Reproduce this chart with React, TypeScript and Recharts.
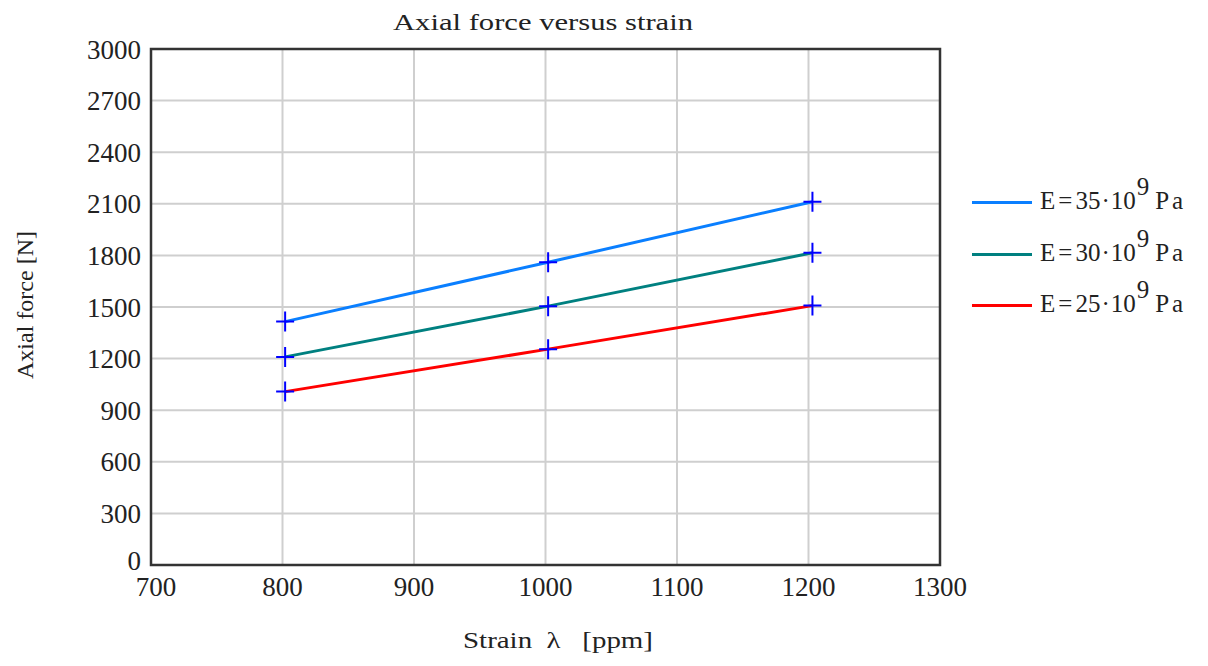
import React from 'react';
import { LineChart, Line, XAxis, YAxis, CartesianGrid, ReferenceArea } from 'recharts';

const strain = [802, 1002, 1203];
const forceE35 = [1415, 1760, 2112];
const forceE30 = [1210, 1505, 1815];
const forceE25 = [1008, 1255, 1508];
const xTicks = [700, 800, 900, 1000, 1100, 1200, 1300];
const yTicks = [0, 300, 600, 900, 1200, 1500, 1800, 2100, 2400, 2700, 3000];
const seriesNames = ['35', '30', '25'];
const seriesColors = ['#0a7fff', '#008080', '#ff0000'];

const data = strain.map((s, i) => ({ s, e35: forceE35[i], e30: forceE30[i], e25: forceE25[i] }));

const FONT = '"Liberation Serif", serif';

const Plus = (props: any) => {
  const { cx, cy } = props;
  if (cx == null || cy == null) return null;
  return (
    <path d={`M${cx - 9},${cy}H${cx + 9}M${cx},${cy - 10}V${cy + 10}`} stroke="#0000ff" strokeWidth={2} fill="none" />
  );
};

const YTick = (props: any) => {
  const { x, y, payload } = props;
  const shift = payload.value === 0 ? -5 : 0;
  return (
    <text x={x - 2} y={y + shift} dy="0.355em" textAnchor="end" fontFamily={FONT} fontSize={27} fill="#222">
      {payload.value}
    </text>
  );
};

const XTick = (props: any) => {
  const { x, y, payload } = props;
  const shift = payload.value === 700 ? 5 : 0;
  return (
    <text x={x + shift} y={y} dy="0.71em" textAnchor="middle" fontFamily={FONT} fontSize={27} fill="#222">
      {payload.value}
    </text>
  );
};

const LegendBox = () => (
  <div style={{ position: 'absolute', left: 965, top: 181, width: 243, height: 160, fontFamily: FONT, fontSize: 25, color: '#222' }}>
    {seriesNames.map((n, i) => (
      <div key={n} style={{ position: 'absolute', left: 0, top: i * 51.5, height: 40, width: 243 }}>
        <div style={{ position: 'absolute', left: 7, top: 20, width: 60, height: 3, background: seriesColors[i] }} />
        <div style={{ position: 'absolute', left: 75, top: 8, whiteSpace: 'nowrap', lineHeight: '24px' }}>
          <span>E</span>
          <span style={{ margin: '0 3px' }}>=</span>
          <span>{n}</span>
          <span style={{ margin: '0 1px' }}>·</span>
          <span>10</span>
          <span style={{ position: 'relative', top: -14, marginLeft: 1 }}>9</span>
          <span style={{ marginLeft: 6, letterSpacing: 3 }}>Pa</span>
        </div>
      </div>
    ))}
  </div>
);

export default function App() {
  return (
    <div style={{ position: 'absolute', left: 0, top: 0, width: 1208, height: 666, background: '#fff' }}>
      <LineChart width={1208} height={666} data={data} margin={{ top: 49, right: 268, bottom: 71, left: 91 }}>
        <CartesianGrid stroke="#cfcfcf" strokeWidth={2} horizontalValues={yTicks} verticalValues={xTicks} />
        <XAxis
          type="number"
          dataKey="s"
          domain={[700, 1300]}
          ticks={xTicks}
          height={30}
          axisLine={false}
          tickLine={false}
          tickSize={0}
          tickMargin={12}
          interval={0}
          tick={<XTick />}
        />
        <YAxis
          type="number"
          domain={[0, 3000]}
          ticks={yTicks}
          width={60}
          axisLine={false}
          tickLine={false}
          tickSize={0}
          tickMargin={8}
          interval={0}
          tick={<YTick />}
        />
        <ReferenceArea x1={700} x2={1300} y1={0} y2={3000} fill="none" stroke="#333" strokeWidth={2.5} fillOpacity={0} ifOverflow="visible" />
        <Line dataKey="e35" stroke={seriesColors[0]} strokeWidth={3} dot={<Plus />} isAnimationActive={false} />
        <Line dataKey="e30" stroke={seriesColors[1]} strokeWidth={3} dot={<Plus />} isAnimationActive={false} />
        <Line dataKey="e25" stroke={seriesColors[2]} strokeWidth={3} dot={<Plus />} isAnimationActive={false} />
        <text x={543} y={30} textAnchor="middle" fontFamily={FONT} fontSize={24} fill="#222" textLength={300} lengthAdjust="spacingAndGlyphs">Axial force versus strain</text>
        <text x={558} y={648} textAnchor="middle" fontFamily={FONT} fontSize={24} fill="#222" xmlSpace="preserve" textLength={190} lengthAdjust="spacingAndGlyphs">Strain  λ   [ppm]</text>
        <text x={0} y={0} transform="translate(33,305) rotate(-90)" textAnchor="middle" fontFamily={FONT} fontSize={24} fill="#222" textLength={148} lengthAdjust="spacingAndGlyphs">Axial force [N]</text>
      </LineChart>
      <LegendBox />
    </div>
  );
}
